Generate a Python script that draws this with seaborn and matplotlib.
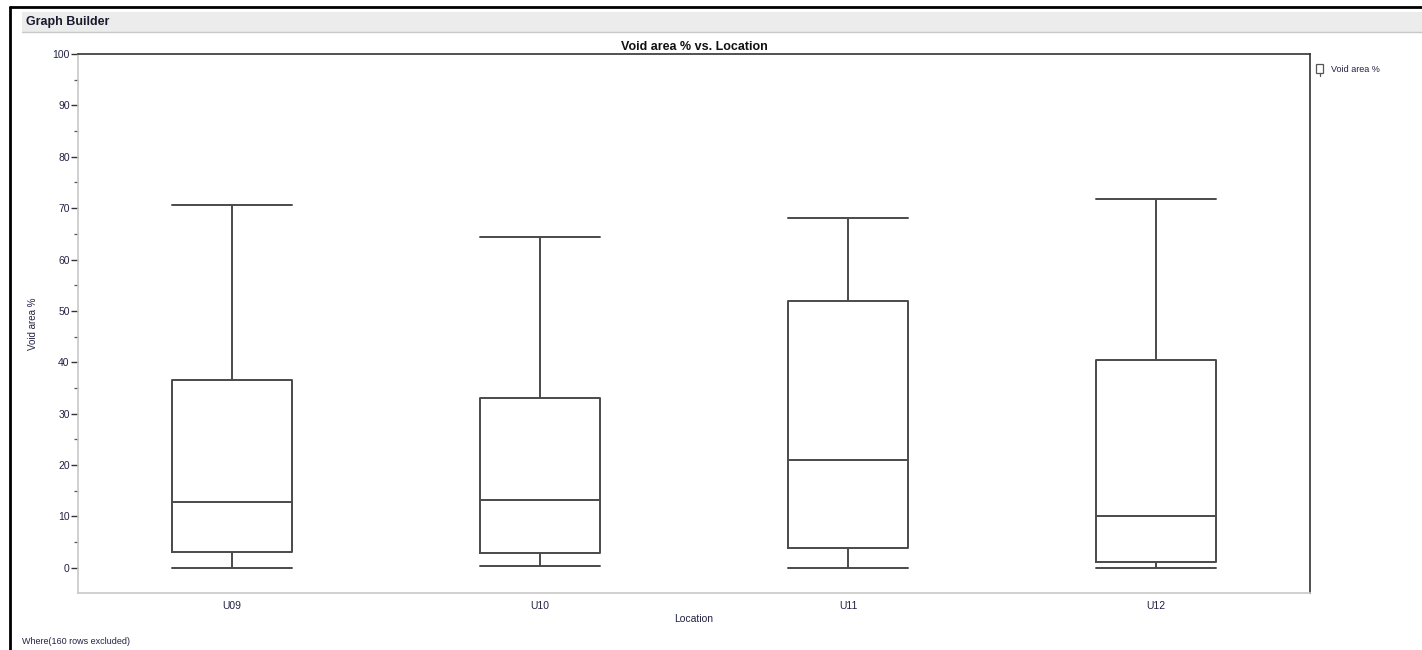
import numpy as np
import pandas as pd
import matplotlib
matplotlib.use("Agg")
import matplotlib.pyplot as plt
import seaborn as sns
from matplotlib.patches import Rectangle
from matplotlib.lines import Line2D

# ---- data (five-number summaries) ----
locations = ["U09", "U10", "U11", "U12"]
mins = [0.0, 0.4, 0.0, 0.0]
q1s = [3.1, 2.9, 3.9, 1.2]
medians = [12.8, 13.2, 21.0, 10.0]
q3s = [36.5, 33.0, 52.0, 40.5]
maxs = [70.7, 64.4, 68.1, 71.8]
y_ticks = [0, 10, 20, 30, 40, 50, 60, 70, 80, 90, 100]

rows = []
for loc, a, b, c, d, e in zip(locations, mins, q1s, medians, q3s, maxs):
    for v in (a, b, c, d, e):
        rows.append({"Location": loc, "Void area %": v})
df = pd.DataFrame(rows)

sns.set_theme(style="white")
plt.rcParams["font.family"] = ["Liberation Sans", "DejaVu Sans"]

W, H = 1422, 650
fig = plt.figure(figsize=(W / 100, H / 100), dpi=100)
fig.patch.set_facecolor("white")

def fx(px):
    return px / W

def fy(py):
    return 1 - py / H

# outer frame and header bar
fig.add_artist(Line2D([fx(10), fx(10)], [0, fy(7)], color="black", lw=2, transform=fig.transFigure))
fig.add_artist(Line2D([fx(10), 1], [fy(7), fy(7)], color="black", lw=2, transform=fig.transFigure))
fig.add_artist(Rectangle((fx(22), fy(32)), 1 - fx(22), fy(12) - fy(32), transform=fig.transFigure,
                         facecolor="#ececec", edgecolor="none"))
fig.add_artist(Line2D([fx(22), 1], [fy(32), fy(32)], color="#c8c8c8", lw=1, transform=fig.transFigure))
fig.text(fx(26), fy(22), "Graph Builder", fontsize=9, fontweight="bold", color="#1a1a2e", va="center", ha="left")

ax = fig.add_axes([fx(78), fy(593), fx(1310) - fx(78), fy(54) - fy(593)])
line_col = "#4a4a4a"
sns.boxplot(data=df, x="Location", y="Void area %", order=locations, ax=ax,
            width=0.39, whis=np.inf, fill=False, color=line_col, linecolor=line_col,
            linewidth=1.4, showfliers=False)

# caps span the full box width
for cont in ax.containers:
    if hasattr(cont, "caps"):
        for cap in cont.caps:
            xd = np.asarray(cap.get_xdata(), dtype=float)
            cx = xd.mean()
            cap.set_xdata([cx - 0.195, cx + 0.195])

ax.set_xlim(-0.5, 3.5)
ax.set_ylim(-4.9, 100)
ax.set_yticks(y_ticks)
ax.set_yticks(np.arange(5, 100, 10), minor=True)
ax.tick_params(axis="y", which="major", length=5, width=1, color="#333333", labelsize=7.5, labelcolor="#222244", pad=1, left=True)
ax.tick_params(axis="y", which="minor", length=3, width=0.9, color="#555555", left=True)
ax.tick_params(axis="x", length=0, labelsize=7.5, labelcolor="#222244", pad=6)

for side in ["top", "right"]:
    ax.spines[side].set_color("#333333")
    ax.spines[side].set_linewidth(1.2)
for side in ["left", "bottom"]:
    ax.spines[side].set_color("#c8c8c8")
    ax.spines[side].set_linewidth(1.2)
ax.grid(False)

ax.set_xlabel("Location", fontsize=7.5, color="#222244", labelpad=2)
ax.set_ylabel("Void area %", fontsize=7, color="#222244", labelpad=10)
ax.set_title("Void area % vs. Location", fontsize=9, fontweight="bold", color="#111111", pad=3)

# legend
fig.add_artist(Rectangle((fx(1316), fy(73)), fx(7), fy(64) - fy(73), transform=fig.transFigure,
                         facecolor="white", edgecolor="#555555", lw=0.9))
fig.add_artist(Line2D([fx(1319.5), fx(1319.5)], [fy(76), fy(73)], color="#555555", lw=0.9, transform=fig.transFigure))
fig.text(fx(1331), fy(69), "Void area %", fontsize=6.5, color="#222244", va="center", ha="left")

fig.text(fx(22), fy(641), "Where(160 rows excluded)", fontsize=6.5, color="#222244", va="center", ha="left")

fig.savefig("out.png", dpi=100, facecolor="white")
